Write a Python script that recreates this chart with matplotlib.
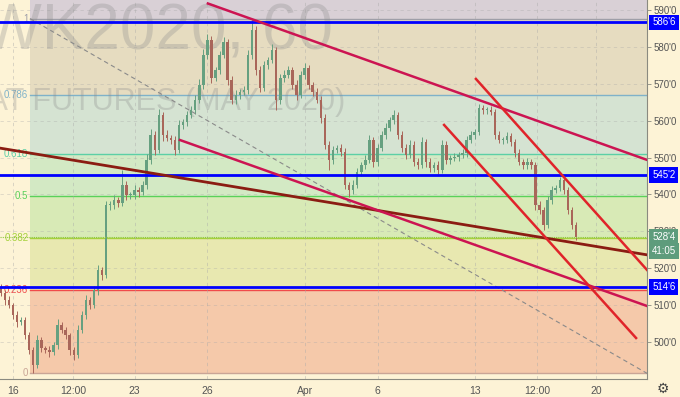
import numpy as np
import matplotlib
matplotlib.use("Agg")
import matplotlib.pyplot as plt

# hourly-ish candles, 6 per trading day, x in trading days from Mar 16
bars_per_day = 6
first_bar = -0.5
open0 = 514.5
closes = [513.2, 511.3, 510.0, 507.3, 505.4, 505.9, 501.8, 497.7, 493.7, 500.5,
          498.3, 497.7, 497.2, 499.1, 504.5, 503.2, 501.8, 497.7, 496.4, 503.2,
          507.3, 511.3, 510.0, 514.0, 519.5, 518.1, 537.1, 537.1, 538.5, 537.7,
          542.6, 539.9, 539.9, 541.2, 540.7, 542.6, 549.4, 556.2, 552.1, 561.6,
          556.2, 555.4, 554.8, 552.1, 558.9, 559.7, 561.6, 563.0, 565.7, 569.8,
          577.9, 582.0, 571.7, 573.8, 577.9, 581.4, 571.1, 565.7, 567.0, 567.9,
          568.4, 577.9, 584.7, 573.8, 568.9, 575.2, 576.5, 579.3, 565.7, 571.7,
          572.5, 573.8, 569.8, 567.0, 572.5, 574.4, 569.8, 567.9, 565.7, 560.8,
          553.5, 549.4, 552.1, 552.6, 551.5, 542.6, 541.2, 542.6, 546.1, 548.0,
          549.4, 554.8, 548.8, 552.6, 556.2, 558.1, 560.2, 561.6, 556.2, 552.6,
          550.7, 553.5, 548.8, 548.0, 554.3, 548.8, 547.2, 548.0, 546.7, 553.5,
          549.4, 549.9, 550.2, 550.7, 551.3, 554.8, 556.2, 557.0, 563.5, 563.0,
          563.0, 562.4, 556.2, 554.8, 554.8, 555.9, 554.3, 551.3, 548.8, 548.0,
          548.8, 548.0, 537.1, 535.8, 531.7, 538.5, 541.2, 541.8, 543.9, 541.2,
          535.8, 531.7, 528.5]
wick_up = [1.2, 0.8, 1.0, 0.6, 1.1, 0.9, 0.7, 0.8, 0.9, 1.3,
           0.8, 0.6, 1.0, 0.9, 1.6, 0.8, 0.7, 0.6, 0.9, 1.2,
           1.0, 1.4, 0.8, 1.1, 1.3, 0.9, 1.2, 1.0, 1.4, 0.8,
           4.0, 1.1, 0.9, 1.3, 0.8, 1.2, 1.5, 1.6, 1.0, 1.5,
           0.9, 1.2, 0.8, 1.1, 1.3, 0.9, 1.2, 1.0, 1.4, 1.6,
           1.5, 1.5, 1.2, 0.9, 1.1, 1.5, 0.8, 1.0, 1.3, 0.9,
           1.2, 1.4, 3.1, 1.0, 1.2, 1.1, 0.9, 1.6, 0.8, 1.0,
           1.3, 1.0, 0.8, 1.2, 1.1, 1.4, 0.9, 0.8, 1.0, 1.1,
           1.0, 0.9, 1.2, 0.8, 1.1, 1.0, 0.9, 1.3, 1.0, 0.9,
           1.2, 1.5, 0.8, 1.0, 1.1, 1.2, 0.9, 1.4, 0.8, 1.0,
           1.1, 1.3, 0.9, 1.0, 1.4, 0.8, 1.0, 0.9, 1.1, 1.3,
           0.9, 0.8, 1.0, 0.9, 1.1, 1.2, 1.0, 0.9, 1.0, 0.8,
           0.9, 1.1, 0.8, 1.0, 0.9, 1.2, 0.8, 0.9, 1.0, 0.8,
           1.0, 0.9, 0.8, 1.1, 0.9, 1.2, 1.0, 0.9, 0.8, 1.1,
           0.8, 0.9, 0.7]
wick_dn = [0.9, 1.2, 0.8, 1.0, 1.3, 0.9, 1.1, 1.0, 2.2, 0.8,
           1.2, 0.9, 1.4, 0.8, 1.0, 0.9, 1.1, 1.3, 1.5, 0.8,
           0.9, 1.1, 1.0, 0.8, 1.2, 1.4, 0.9, 1.3, 1.0, 1.1,
           0.9, 1.4, 1.2, 1.0, 1.3, 0.9, 1.1, 1.0, 1.5, 0.9,
           1.6, 1.0, 1.2, 1.4, 0.9, 1.1, 1.0, 0.8, 1.2, 0.9,
           1.0, 1.1, 1.4, 0.9, 1.0, 0.8, 1.3, 1.2, 1.0, 1.1,
           0.9, 1.0, 1.2, 1.3, 1.1, 0.9, 1.0, 0.8, 2.8, 1.0,
           1.1, 0.9, 1.0, 1.4, 0.9, 1.0, 1.2, 1.1, 0.9, 1.3,
           1.2, 2.7, 1.0, 0.9, 1.1, 1.2, 1.9, 1.0, 0.9, 1.1,
           1.0, 0.9, 1.2, 1.0, 0.8, 1.1, 0.9, 1.0, 1.2, 1.1,
           1.0, 0.9, 1.1, 1.2, 0.9, 1.3, 1.1, 1.0, 1.2, 0.9,
           1.0, 1.1, 0.9, 1.0, 0.8, 1.2, 0.9, 1.0, 0.9, 1.1,
           1.0, 0.8, 1.1, 0.9, 1.0, 0.9, 1.1, 1.0, 0.9, 1.2,
           1.0, 1.1, 1.3, 1.0, 1.4, 0.9, 1.0, 0.8, 0.9, 1.0,
           1.1, 1.0, 0.8]

# fibonacci retracement
fib_low, fib_high = 491.4, 587.8
fib_start = 0.7
fib_levels = [0, 0.236, 0.382, 0.5, 0.618, 0.786, 1, 1.618]
fib_labels = ["0", "0.236", "0.382", "0.5", "0.618", "0.786", "1", ""]
fib_line_colors = ["#c9a596", "#f04a4a", "#a6d13c", "#5ad15a", "#5ccfa6", "#7fb2c9", "#9e9ea8", "#9e9ea8"]
fib_zone_colors = ["#f5c9aa", "#e8e8b0", "#d8eab6", "#d3e9c4", "#d5e3d2", "#e6dcc0", "#d9d0d6"]

# horizontal levels and trendlines (day, price)
blue_levels = [586.75, 545.25, 514.75]
blue_labels = ["586'6", "545'2", "514'6"]
crimson_lines = [([8.02, 26.09], [591.9, 549.4]), ([6.87, 26.09], [554.8, 509.7])]
maroon_line = ([-0.535, 26.09], [552.6, 523.6])
red_lines = [([17.74, 25.64], [558.9, 501.0]), ([19.05, 26.09], [571.4, 519.5])]
diag_line = ([0.7, 26.09], [587.8, 491.4])

last_price, last_label, countdown = 528.5, "528'4", "41:05"
price_ticks = [500, 510, 520, 530, 540, 550, 560, 570, 580, 590]
time_ticks = [0, 2.47, 5, 8, 12, 15, 19, 21.56, 24]
time_labels = ["16", "12:00", "23", "26", "Apr", "6", "13", "12:00", "20"]

plt.rcParams["font.family"] = ["Liberation Sans", "DejaVu Sans"]

bg = "#fdf3d6"
fig = plt.figure(figsize=(6.8, 3.97), dpi=100)
fig.patch.set_facecolor(bg)
ax = fig.add_axes([0, 18 / 397, 647 / 680, 379 / 397])
ax.set_facecolor(bg)
xmin, xmax = -0.535, 26.09
ax.set_xlim(xmin, xmax)
ax.set_ylim(489.86, 592.85)

# zones
rng = fib_high - fib_low
prices = [fib_low + lv * rng for lv in fib_levels]
for lo, hi, c in zip(prices[:-1], prices[1:], fib_zone_colors):
    ax.fill_between([fib_start, xmax], lo, hi, color=c, lw=0, zorder=0)
for p, c, lab in zip(prices, fib_line_colors, fib_labels):
    ax.plot([fib_start, xmax], [p, p], color=c, lw=1, zorder=1)
    if lab:
        ax.text(fib_start - 0.07, p, lab, color=c, fontsize=7, ha="right", va="center", zorder=1)

# grid
for t in time_ticks:
    ax.axvline(t, color="#a8a8a8", lw=0.6, ls=(0, (4, 4)), alpha=0.5, zorder=1)
for p in price_ticks:
    ax.axhline(p, color="#a8a8a8", lw=0.6, ls=(0, (4, 4)), alpha=0.4, zorder=1)

# watermark
ax.text(0.515, 0.915, "KWK2020, 60", transform=ax.transAxes, ha="right", va="center",
        fontsize=46, color="#8c8c8c", alpha=0.3, zorder=2)
ax.text(0.533, 0.73, "KC HRW WHEAT FUTURES (MAY 2020)", transform=ax.transAxes, ha="right",
        va="center", fontsize=22, color="#8c8c8c", alpha=0.3, zorder=2)

# candles
c = np.array(closes)
o = np.concatenate([[open0], c[:-1]])
hi = np.maximum(o, c) + np.array(wick_up)
lo = np.minimum(o, c) - np.array(wick_dn)
t = first_bar + np.arange(len(c)) / bars_per_day
up = c >= o
cols = np.where(up, "#66a080", "#a9665a")
ax.vlines(t, lo, hi, colors=cols, lw=0.7, zorder=3)
ax.bar(t, np.maximum(np.abs(c - o), 0.25), bottom=np.minimum(o, c), width=0.1,
       color=cols, lw=0, zorder=3)

# lines
ax.plot(*diag_line, color="#8a8a8a", lw=0.8, ls=(0, (4, 3)), zorder=4)
for p in blue_levels:
    ax.axhline(p, color="#0000ff", lw=2, zorder=5)
ax.axhline(last_price, color="#8cc63f", lw=0.8, ls=(0, (1, 1)), zorder=4)
ax.plot(*maroon_line, color="#8b1c12", lw=2, zorder=5)
for xs, ys in crimson_lines:
    ax.plot(xs, ys, color="#cc1452", lw=1.8, zorder=5)
for xs, ys in red_lines:
    ax.plot(xs, ys, color="#e0242a", lw=1.8, zorder=5)

# axes
for s in ["top", "left"]:
    ax.spines[s].set_visible(False)
ax.spines["right"].set_color("#8a8a80")
ax.spines["bottom"].set_color("#8a8a80")
ax.yaxis.tick_right()
ax.set_yticks(price_ticks)
ax.set_yticklabels([f"{p}'0" for p in price_ticks])
ax.tick_params(axis="y", length=3, width=0.6, color="#8a8a80", labelsize=7,
               labelcolor="#555555", pad=1.5)
ax.set_xticks(time_ticks)
ax.set_xticklabels(time_labels)
ax.tick_params(axis="x", length=0, labelsize=7.5, labelcolor="#555555", pad=5)

ytr = ax.get_yaxis_transform()
box = dict(boxstyle="square,pad=0.3", ec="none")
for p, lab in zip(blue_levels, blue_labels):
    ax.text(1.008, p, lab, transform=ytr, fontsize=7, color="white", ha="left", va="center",
            bbox=dict(box, fc="#0000ff"), clip_on=False, zorder=10)
ax.text(1.008, last_price, last_label, transform=ytr, fontsize=7, color="white", ha="left",
        va="center", bbox=dict(box, fc="#5e9c7c"), clip_on=False, zorder=10)
ax.annotate(countdown, xy=(1.008, last_price), xycoords=ytr, xytext=(0, -10),
            textcoords="offset points", fontsize=7, color="white", ha="left", va="center",
            bbox=dict(box, fc="#5e9c7c"), zorder=10)

fig.text(663 / 680, 1 - 389 / 397, "\u2699", fontsize=10, color="#444444", ha="center",
         va="center", family="DejaVu Sans")

fig.savefig("out.png", dpi=100, facecolor=bg)
